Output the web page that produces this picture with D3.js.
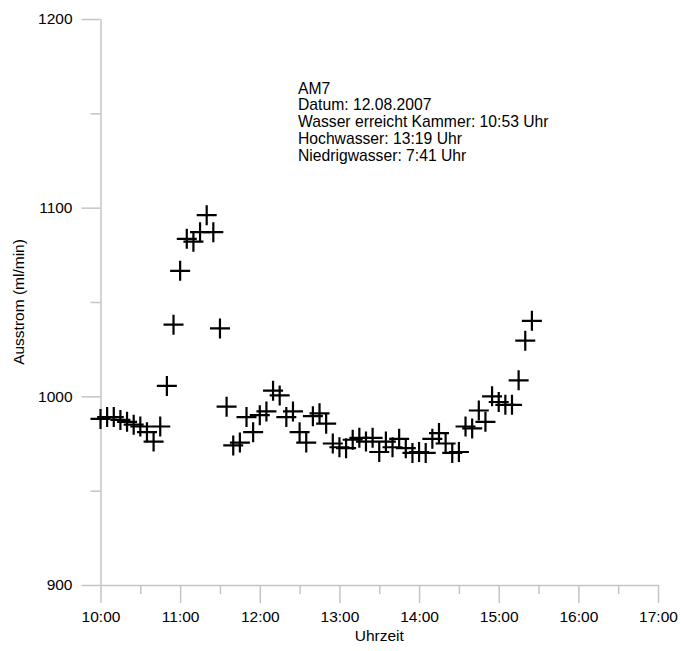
<!DOCTYPE html>
<html>
<head>
<meta charset="utf-8">
<script src="https://cdn.jsdelivr.net/npm/d3@7"></script>
<style>
  body { margin: 0; background: #fff; }
  svg { display: block; font-family: "Liberation Sans", Arial, sans-serif; }
  .axis path, .axis line { stroke: #c4c4c4; stroke-width: 1.5; }
  .axis text { fill: #000; font-size: 15.5px; font-family: "Liberation Sans", Arial, sans-serif; }
</style>
</head>
<body>
<svg width="681" height="651"></svg>
<script>
// Messzeitpunkte (12.08.2007) und Ausstrom in ml/min
var times = ["10:00","10:05","10:10","10:15","10:20","10:25","10:30","10:35","10:40","10:45",
  "10:50","10:55","11:00","11:05","11:10","11:15","11:20","11:25","11:30","11:35",
  "11:40","11:45","11:50","11:55","12:00","12:05","12:10","12:15","12:20","12:25",
  "12:30","12:35","12:40","12:45","12:50","12:55","13:00","13:05","13:10","13:15",
  "13:20","13:25","13:30","13:35","13:40","13:45","13:50","13:55","14:00","14:05",
  "14:10","14:15","14:20","14:25","14:30","14:35","14:40","14:45","14:50","14:55",
  "15:00","15:05","15:10","15:15","15:20","15:25"];
var values = [988, 989, 989, 987.5, 986.5, 985, 984, 981, 976, 984,
  1005.5, 1038, 1066.5, 1083.5, 1082, 1087, 1096, 1087, 1036, 994.5,
  974, 975.5, 989, 981, 990, 992, 1003, 1000.5, 989, 992,
  981, 975.5, 989.5, 991, 985.5, 975, 973, 972.5, 977, 978,
  976, 978, 970.5, 976, 973, 977.5, 972.5, 970, 970.5, 970,
  977.5, 980.5, 975, 970, 970.5, 984, 983, 992.5, 986.5, 1000,
  997, 995.5, 995.5, 1008.5, 1029.5, 1040];

var xMajor = ["10:00","11:00","12:00","13:00","14:00","15:00","16:00","17:00"];
var xMinor = ["10:30","11:30","12:30","13:30","14:30","15:30","16:30"];
var yMajor = [900, 1000, 1100, 1200];
var yMinor = [950, 1050, 1150];

var infoLines = ["AM7", "Datum: 12.08.2007", "Wasser erreicht Kammer: 10:53 Uhr",
  "Hochwasser: 13:19 Uhr", "Niedrigwasser: 7:41 Uhr"];

var parse = d3.timeParse("%Y-%m-%d %H:%M");
function t(s) { return parse("2007-08-12 " + s); }

var data = times.map(function(d, i) { return { time: t(d), value: values[i] }; });

var svg = d3.select("svg");

var x = d3.scaleTime().domain([t("10:00"), t("17:00")]).range([100.5, 658]);
var y = d3.scaleLinear().domain([900, 1200]).range([585, 19]);

// x-Achse
svg.append("g").attr("class", "axis")
  .attr("transform", "translate(0,585)")
  .call(d3.axisBottom(x).tickValues(xMinor.map(t)).tickSize(9).tickSizeOuter(0).tickFormat(""))
  .select(".domain").remove();
svg.append("g").attr("class", "axis")
  .attr("transform", "translate(0,585)")
  .call(d3.axisBottom(x).tickValues(xMajor.map(t)).tickSize(18).tickSizeOuter(0)
    .tickPadding(8).tickFormat(d3.timeFormat("%H:%M")));

// y-Achse
svg.append("g").attr("class", "axis")
  .attr("transform", "translate(100.5,0)")
  .call(d3.axisLeft(y).tickValues(yMinor).tickSize(10).tickSizeOuter(0).tickFormat(""))
  .select(".domain").remove();
svg.append("g").attr("class", "axis")
  .attr("transform", "translate(100.5,0)")
  .call(d3.axisLeft(y).tickValues(yMajor).tickSize(19).tickSizeOuter(0).tickPadding(9)
    .tickFormat(d3.format("d")));

svg.append("text")
  .attr("x", x(t("13:30")))
  .attr("y", 641)
  .attr("text-anchor", "middle")
  .attr("font-size", 15.5)
  .text("Uhrzeit");

svg.append("text")
  .attr("transform", "translate(24,302) rotate(-90)")
  .attr("text-anchor", "middle")
  .attr("font-size", 15.5)
  .text("Ausstrom (ml/min)");

// Kreuze
var s = 10;
var marks = svg.append("g").attr("stroke", "#000").attr("stroke-width", 2.2);
marks.selectAll("path").data(data).enter().append("path")
  .attr("d", function(d) {
    var px = x(d.time), py = y(d.value);
    return "M" + (px - s) + "," + py + "H" + (px + s) + "M" + px + "," + (py - s) + "V" + (py + s);
  });

// Beschriftung
svg.append("g").selectAll("text").data(infoLines).enter().append("text")
  .attr("x", 298)
  .attr("y", function(d, i) { return 93.5 + i * 16.8; })
  .attr("font-size", 15.7)
  .text(function(d) { return d; });
</script>
</body>
</html>
